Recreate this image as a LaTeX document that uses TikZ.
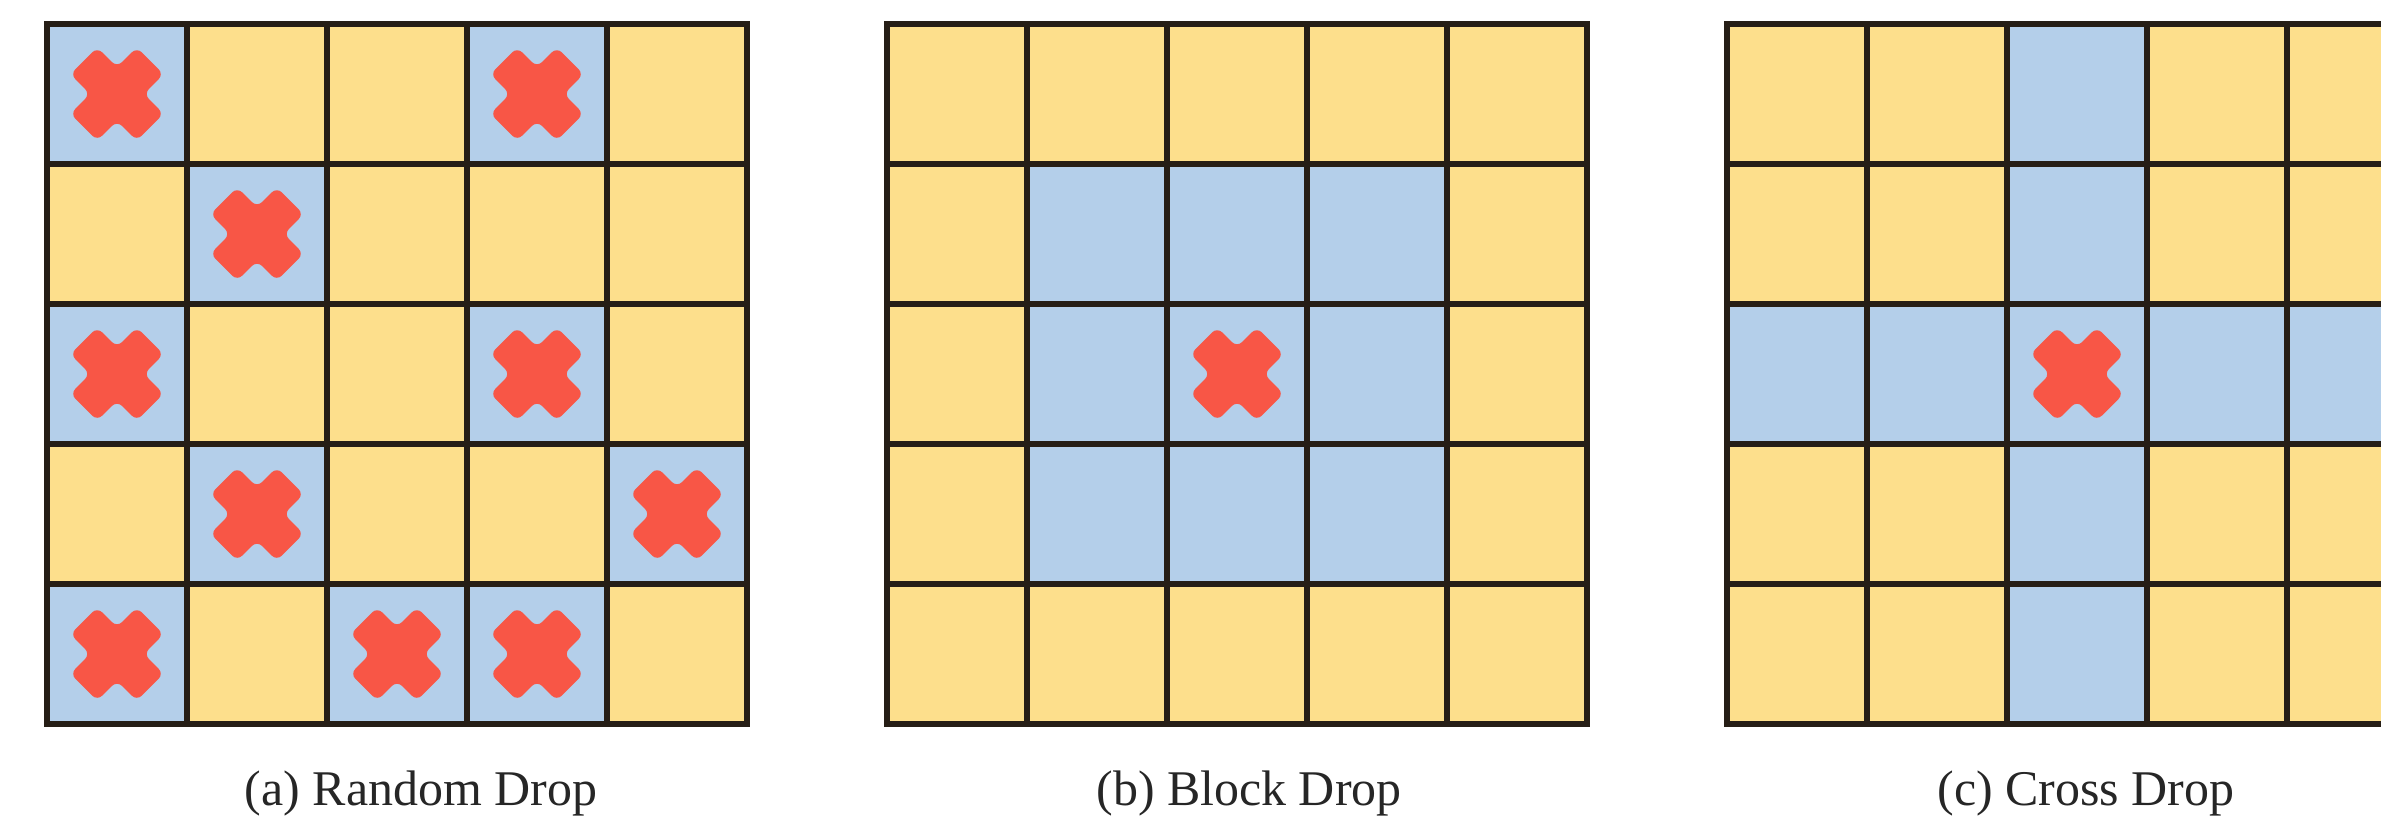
\documentclass[tikz,border=0pt]{standalone}
\usepackage{fontspec}
\setmainfont{Liberation Serif}
\definecolor{cellyellow}{RGB}{253,223,140}
\definecolor{cellblue}{RGB}{180,207,234}
\definecolor{crossred}{RGB}{248,86,70}
\definecolor{gridline}{RGB}{38,30,22}
\tikzset{
  cellbox/.style={draw=gridline, line width=1.6pt, line join=miter},
  caption/.style={anchor=base, inner sep=0pt, font=\fontsize{14.2pt}{17pt}\selectfont, text=black!85},
  dropx/.style={fill=crossred, rounded corners=2pt},
}
% \dropcross{cx}{cy}: red X centred at (cx,cy) in pixel units
\newcommand{\dropcross}[2]{%
  \begin{scope}[shift={(#1,#2)}, rotate=45]
    \fill[dropx] (19,19) -- (19,47) -- (-19,47) -- (-19,19) -- (-47,19) -- (-47,-19)
      -- (-19,-19) -- (-19,-47) -- (19,-47) -- (19,-19) -- (47,-19) -- (47,19) -- cycle;
  \end{scope}}
\begin{document}
\begin{tikzpicture}[x=0.01cm, y=-0.01cm]
\useasboundingbox (0,0) rectangle (2381,832);
\clip (0,0) rectangle (2381,832);
\fill[white] (0,0) rectangle (2381,832);
% ---------- (a) Random Drop ----------
\foreach \r in {1,...,5}{
  \foreach \c in {1,...,5}{
    \fill[cellyellow] ({47+(\c-1)*140},{24+(\r-1)*140}) rectangle ++(140,140);
  }
}
\foreach \r/\c in {1/1,1/4,2/2,3/1,3/4,4/2,4/5,5/1,5/3,5/4}{
  \fill[cellblue] ({47+(\c-1)*140},{24+(\r-1)*140}) rectangle ++(140,140);
  \dropcross{{47+(\c-0.5)*140}}{{24+(\r-0.5)*140}}
}
\foreach \i in {0,...,5}{
  \draw[cellbox] ({47+\i*140},24) -- ({47+\i*140},724);
  \draw[cellbox] (47,{24+\i*140}) -- (747,{24+\i*140});
}
\draw[cellbox] (47,24) rectangle (747,724);
\node[caption] (capa) at (421,805) {(a) Random Drop};
% ---------- (b) Block Drop ----------
\foreach \r in {1,...,5}{
  \foreach \c in {1,...,5}{
    \fill[cellyellow] ({887+(\c-1)*140},{24+(\r-1)*140}) rectangle ++(140,140);
  }
}
\fill[cellblue] (1027,164) rectangle (1447,584);
\dropcross{1237}{374}
\foreach \i in {0,...,5}{
  \draw[cellbox] ({887+\i*140},24) -- ({887+\i*140},724);
  \draw[cellbox] (887,{24+\i*140}) -- (1587,{24+\i*140});
}
\draw[cellbox] (887,24) rectangle (1587,724);
\node[caption] (capb) at (1249,805) {(b) Block Drop};
% ---------- (c) Cross Drop ----------
\foreach \r in {1,...,5}{
  \foreach \c in {1,...,5}{
    \fill[cellyellow] ({1727+(\c-1)*140},{24+(\r-1)*140}) rectangle ++(140,140);
  }
}
\fill[cellblue] (2007,24) rectangle (2147,724);
\fill[cellblue] (1727,304) rectangle (2427,444);
\dropcross{2077}{374}
\foreach \i in {0,...,5}{
  \draw[cellbox] ({1727+\i*140},24) -- ({1727+\i*140},724);
  \draw[cellbox] (1727,{24+\i*140}) -- (2427,{24+\i*140});
}
\draw[cellbox] (1727,24) rectangle (2427,724);
\node[caption] (capc) at (2086,805) {(c) Cross Drop};
\end{tikzpicture}
\end{document}
